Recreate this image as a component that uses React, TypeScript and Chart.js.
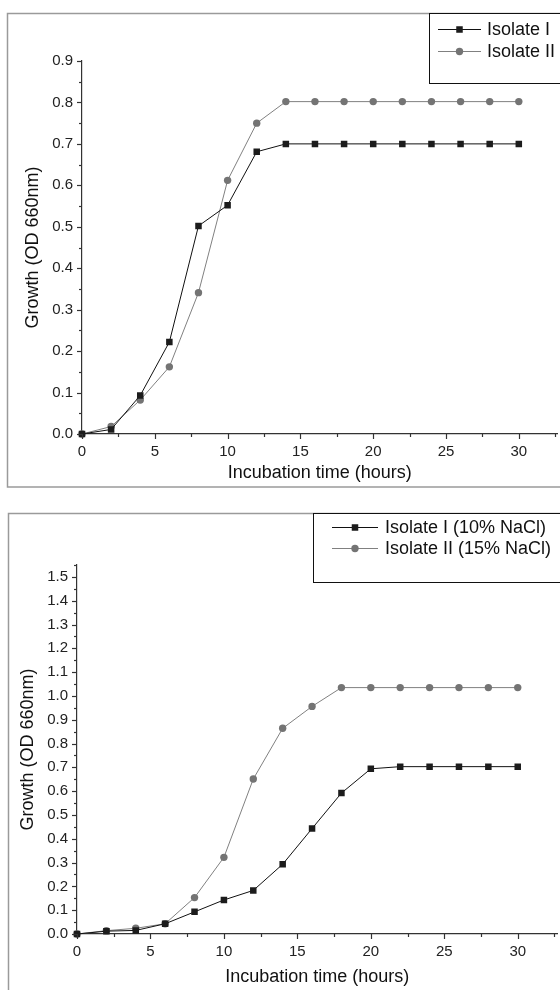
import React, { useEffect, useRef } from "react";
import { Chart, registerables } from "chart.js";

Chart.register(...registerables);

// ---- data ----
const HOURS = [0, 2, 4, 6, 8, 10, 12, 14, 16, 18, 20, 22, 24, 26, 28, 30];
const A_ISOLATE_I = [0, 0.011, 0.093, 0.222, 0.502, 0.552, 0.681, 0.7, 0.7, 0.7, 0.7, 0.7, 0.7, 0.7, 0.7, 0.7];
const A_ISOLATE_II = [0, 0.018, 0.082, 0.162, 0.341, 0.612, 0.75, 0.802, 0.802, 0.802, 0.802, 0.802, 0.802, 0.802, 0.802, 0.802];
const B_ISOLATE_I = [0, 0.012, 0.015, 0.043, 0.093, 0.143, 0.183, 0.293, 0.443, 0.592, 0.694, 0.703, 0.703, 0.703, 0.703, 0.703];
const B_ISOLATE_II = [0, 0.014, 0.024, 0.043, 0.153, 0.322, 0.651, 0.864, 0.956, 1.035, 1.035, 1.035, 1.035, 1.035, 1.035, 1.035];
const LABELS_A = ["Isolate I", "Isolate II"];
const LABELS_B = ["Isolate I (10% NaCl)", "Isolate II (15% NaCl)"];
const X_TICKS = [0, 5, 10, 15, 20, 25, 30];
const Y_TICKS_A = [0, 0.1, 0.2, 0.3, 0.4, 0.5, 0.6, 0.7, 0.8, 0.9];
const Y_TICKS_B = [0, 0.1, 0.2, 0.3, 0.4, 0.5, 0.6, 0.7, 0.8, 0.9, 1.0, 1.1, 1.2, 1.3, 1.4, 1.5];
const X_TITLE = "Incubation time (hours)";
const Y_TITLE = "Growth (OD 660nm)";

const FONT = "'Liberation Sans', Arial, sans-serif";
const INK = "#1c1c1c";
const GREY = "#747474";

const frame = {
  id: "frame",
  beforeDraw(chart: any, _a: any, o: any) {
    const { ctx, width } = chart;
    ctx.save();
    ctx.strokeStyle = "#9a9a9a";
    ctx.lineWidth = 1.5;
    ctx.beginPath();
    ctx.moveTo(width + 5, o.top);
    ctx.lineTo(o.left, o.top);
    if (o.bottom != null) {
      ctx.lineTo(o.left, o.bottom);
      ctx.lineTo(width + 5, o.bottom);
    } else {
      ctx.lineTo(o.left, chart.height + 5);
    }
    ctx.stroke();
    ctx.restore();
  },
};

const tickMarks = {
  id: "tickMarks",
  afterDraw(chart: any) {
    const { ctx, chartArea } = chart;
    const xs = chart.scales.x;
    const ys = chart.scales.y;
    ctx.save();
    ctx.strokeStyle = "#333";
    ctx.lineWidth = 1.2;
    const line = (x0: number, y0: number, x1: number, y1: number) => {
      ctx.beginPath();
      ctx.moveTo(x0, y0);
      ctx.lineTo(x1, y1);
      ctx.stroke();
    };
    const each = (scale: any, fn: (v: number, major: boolean) => void) => {
      const vals = scale.ticks.map((t: any) => t.value);
      const step = vals[1] - vals[0];
      vals.forEach((v: number) => {
        fn(v, true);
        if (v + step / 2 <= scale.max + 1e-9) fn(v + step / 2, false);
      });
    };
    each(xs, (v, major) => {
      const p = Math.round(xs.getPixelForValue(v)) + 0.5;
      line(p, chartArea.bottom, p, chartArea.bottom + (major ? 5 : 3));
    });
    each(ys, (v, major) => {
      const p = Math.round(ys.getPixelForValue(v)) + 0.5;
      line(chartArea.left, p, chartArea.left - (major ? 5 : 3), p);
    });
    ctx.restore();
  },
};

const boxLegend = {
  id: "boxLegend",
  afterDraw(chart: any, _a: any, o: any) {
    const { ctx } = chart;
    ctx.save();
    ctx.fillStyle = "#fff";
    ctx.fillRect(o.x, o.y, o.w, o.h);
    ctx.strokeStyle = "#111";
    ctx.lineWidth = 1;
    ctx.strokeRect(o.x + 0.5, o.y + 0.5, o.w, o.h);
    chart.data.datasets.forEach((ds: any, i: number) => {
      const y = o.row0 + i * o.rowGap;
      ctx.strokeStyle = ds.borderColor;
      ctx.lineWidth = 1;
      ctx.beginPath();
      ctx.moveTo(o.lineX0, y + 0.5);
      ctx.lineTo(o.lineX1, y + 0.5);
      ctx.stroke();
      const mx = (o.lineX0 + o.lineX1) / 2;
      ctx.fillStyle = ds.pointBackgroundColor;
      if (ds.pointStyle === "rect") {
        const s = ds.pointRadius * Math.SQRT1_2;
        ctx.fillRect(mx - s, y + 0.5 - s, 2 * s, 2 * s);
      } else {
        ctx.beginPath();
        ctx.arc(mx, y + 0.5, ds.pointRadius, 0, Math.PI * 2);
        ctx.fill();
      }
      ctx.fillStyle = "#111";
      ctx.font = `18px ${FONT}`;
      ctx.textBaseline = "middle";
      ctx.textAlign = "left";
      ctx.fillText(ds.label, o.textX, y + 1);
    });
    ctx.restore();
  },
};

function makeDatasets(labels: string[], s1: number[], s2: number[]) {
  return [
    {
      label: labels[0],
      data: HOURS.map((h, i) => ({ x: h, y: s1[i] })),
      borderColor: "#111",
      borderWidth: 1,
      pointStyle: "rect",
      pointRadius: 4.6,
      pointBackgroundColor: INK,
      pointBorderWidth: 0,
      pointBorderColor: INK,
      tension: 0,
      clip: 10,
    },
    {
      label: labels[1],
      data: HOURS.map((h, i) => ({ x: h, y: s2[i] })),
      borderColor: "#808080",
      borderWidth: 1,
      pointStyle: "circle",
      pointRadius: 3.7,
      pointBackgroundColor: GREY,
      pointBorderWidth: 0,
      pointBorderColor: GREY,
      tension: 0,
      clip: 10,
    },
  ];
}

interface PanelProps {
  top: number;
  height: number;
  labels: string[];
  s1: number[];
  s2: number[];
  yTicks: number[];
  yMax: number;
  xMax: number;
  padTop: number;
  yAxisW: number;
  xTitlePad: number;
  yTitlePad: number;
  frameOpts: any;
  legendOpts: any;
}

function Panel(p: PanelProps) {
  const ref = useRef<HTMLCanvasElement | null>(null);
  useEffect(() => {
    if (!ref.current) return;
    const chart = new Chart(ref.current, {
      type: "line",
      data: { datasets: makeDatasets(p.labels, p.s1, p.s2) as any },
      plugins: [frame, tickMarks, boxLegend],
      options: {
        animation: false,
        responsive: false,
        events: [],
        layout: { padding: { top: p.padTop, left: 0, right: 0, bottom: 0 } },
        plugins: {
          legend: { display: false },
          tooltip: { enabled: false },
          frame: p.frameOpts,
          boxLegend: p.legendOpts,
        } as any,
        scales: {
          x: {
            type: "linear",
            min: 0,
            max: p.xMax,
            grid: { display: false, drawTicks: false, tickLength: 0 },
            border: { display: true, color: "#333", width: 1.2 },
            afterBuildTicks: (s: any) => {
              s.ticks = X_TICKS.map((v) => ({ value: v }));
            },
            afterFit: (s: any) => {
              s.height = 56;
            },
            ticks: {
              padding: 9,
              color: "#222",
              font: { family: FONT, size: 15 },
              maxRotation: 0,
              autoSkip: false,
              callback: (v: any) => String(v),
            },
            title: {
              display: true,
              text: X_TITLE,
              color: "#111",
              font: { family: FONT, size: 18 },
              padding: { top: 0, bottom: p.xTitlePad },
            },
          },
          y: {
            type: "linear",
            min: 0,
            max: p.yMax,
            grid: { display: false, drawTicks: false, tickLength: 0 },
            border: { display: true, color: "#333", width: 1.2 },
            afterBuildTicks: (s: any) => {
              s.ticks = p.yTicks.map((v) => ({ value: v }));
            },
            afterFit: (s: any) => {
              s.width = p.yAxisW;
            },
            ticks: {
              padding: 9,
              color: "#222",
              font: { family: FONT, size: 15 },
              autoSkip: false,
              callback: (v: any) => Number(v).toFixed(1),
            },
            title: {
              display: true,
              text: Y_TITLE,
              color: "#111",
              font: { family: FONT, size: 18 },
              padding: { top: p.yTitlePad, bottom: 0 },
            },
          },
        },
      },
    });
    return () => chart.destroy();
  }, []);
  return (
    <canvas
      ref={ref}
      width={562}
      height={p.height}
      style={{ position: "absolute", left: 0, top: p.top, width: 562, height: p.height }}
    />
  );
}

export default function App() {
  return (
    <div
      style={{
        position: "absolute",
        left: 0,
        top: 0,
        width: 560,
        height: 990,
        overflow: "hidden",
        background: "#fff",
      }}
    >
      <Panel
        top={0}
        height={490}
        labels={LABELS_A}
        s1={A_ISOLATE_I}
        s2={A_ISOLATE_II}
        yTicks={Y_TICKS_A}
        yMax={0.9}
        xMax={32.65}
        padTop={61}
        yAxisW={82}
        xTitlePad={6}
        yTitlePad={22}
        frameOpts={{ left: 7.5, top: 13.5, bottom: 487 }}
        legendOpts={{ x: 429, y: 13, w: 200, h: 70, row0: 29, rowGap: 22, lineX0: 438, lineX1: 481, textX: 487 }}
      />
      <Panel
        top={495}
        height={495}
        labels={LABELS_B}
        s1={B_ISOLATE_I}
        s2={B_ISOLATE_II}
        yTicks={Y_TICKS_B}
        yMax={1.55}
        xMax={32.7}
        padTop={70}
        yAxisW={77}
        xTitlePad={2}
        yTitlePad={17}
        frameOpts={{ left: 8.5, top: 18.5, bottom: null }}
        legendOpts={{ x: 313, y: 18, w: 300, h: 69, row0: 32, rowGap: 21, lineX0: 332, lineX1: 378, textX: 385 }}
      />
    </div>
  );
}
